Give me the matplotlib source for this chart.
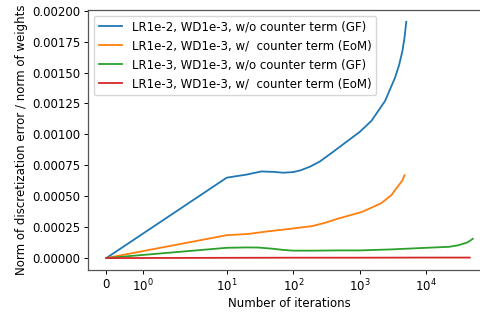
import matplotlib
matplotlib.use("Agg")
import matplotlib.pyplot as plt
from matplotlib.ticker import LogFormatterSciNotation, NullLocator

# values
blue_x = [0, 10, 20, 33, 50, 70, 100, 130, 180, 250, 400, 750, 1000, 1500, 2400,
          3400, 3900, 4400, 4700, 5000]
blue_y = [0, 0.00065, 0.000675, 0.000700, 0.000697, 0.00069, 0.000695, 0.00071,
          0.00074, 0.00078, 0.00086, 0.00097, 0.00102, 0.00111, 0.00127,
          0.00146, 0.00156, 0.00168, 0.00178, 0.00191]

orange_x = [0, 10, 21, 40, 83, 190, 300, 480, 1080, 2100, 3000, 3400, 4000, 4400, 4700]
orange_y = [0, 0.000185, 0.000195, 0.000215, 0.000234, 0.000258, 0.000285,
            0.00032, 0.000373, 0.000443, 0.00051, 0.00055, 0.0006, 0.00063, 0.00067]

green_x = [0, 10, 20, 30, 50, 70, 100, 200, 500, 1000, 3000, 10000, 22000,
           30000, 40000, 45000, 50000]
green_y = [0, 0.000083, 0.000086, 0.000085, 0.000075, 0.000066, 0.00006, 0.00006,
           0.000062, 0.000062, 0.00007, 0.000083, 0.000091, 0.000103, 0.000123,
           0.000138, 0.000156]

red_x = [0, 10, 100, 1000, 10000, 45000]
red_y = [0, 0.000002, 0.000003, 0.000003, 0.000004, 0.000004]

labels = [
    "LR1e-2, WD1e-3, w/o counter term (GF)",
    "LR1e-2, WD1e-3, w/  counter term (EoM)",
    "LR1e-3, WD1e-3, w/o counter term (GF)",
    "LR1e-3, WD1e-3, w/  counter term (EoM)",
]
x_ticks = [0, 1, 10, 100, 1000, 10000]

plt.rcParams["font.size"] = 8.5

fig = plt.figure(figsize=(4.81, 3.12), dpi=100)
ax = fig.add_axes([0.183, 0.135, 0.838, 0.833])

lw = 1.3
ax.plot(blue_x, blue_y, color="#1f77b4", lw=lw, label=labels[0])
ax.plot(orange_x, orange_y, color="#ff7f0e", lw=lw, label=labels[1])
ax.plot(green_x, green_y, color="#2ca02c", lw=lw, label=labels[2])
ax.plot(red_x, red_y, color="#d62728", lw=lw, label=labels[3])

ax.set_xscale("symlog", linthresh=2)
ax.set_xticks(x_ticks)
ax.xaxis.set_major_formatter(LogFormatterSciNotation(labelOnlyBase=False))
ax.xaxis.set_minor_locator(NullLocator())

ax.set_xlabel("Number of iterations", labelpad=2)
ax.set_ylabel("Norm of discretization error / norm of weights", labelpad=3)
ax.tick_params(length=3, width=0.7, pad=2.5)
for s in ax.spines.values():
    s.set_linewidth(0.9)
    s.set_color("#555555")

ax.legend(loc="upper left", fontsize=8.5)

fig.savefig("out.png", dpi=100)
